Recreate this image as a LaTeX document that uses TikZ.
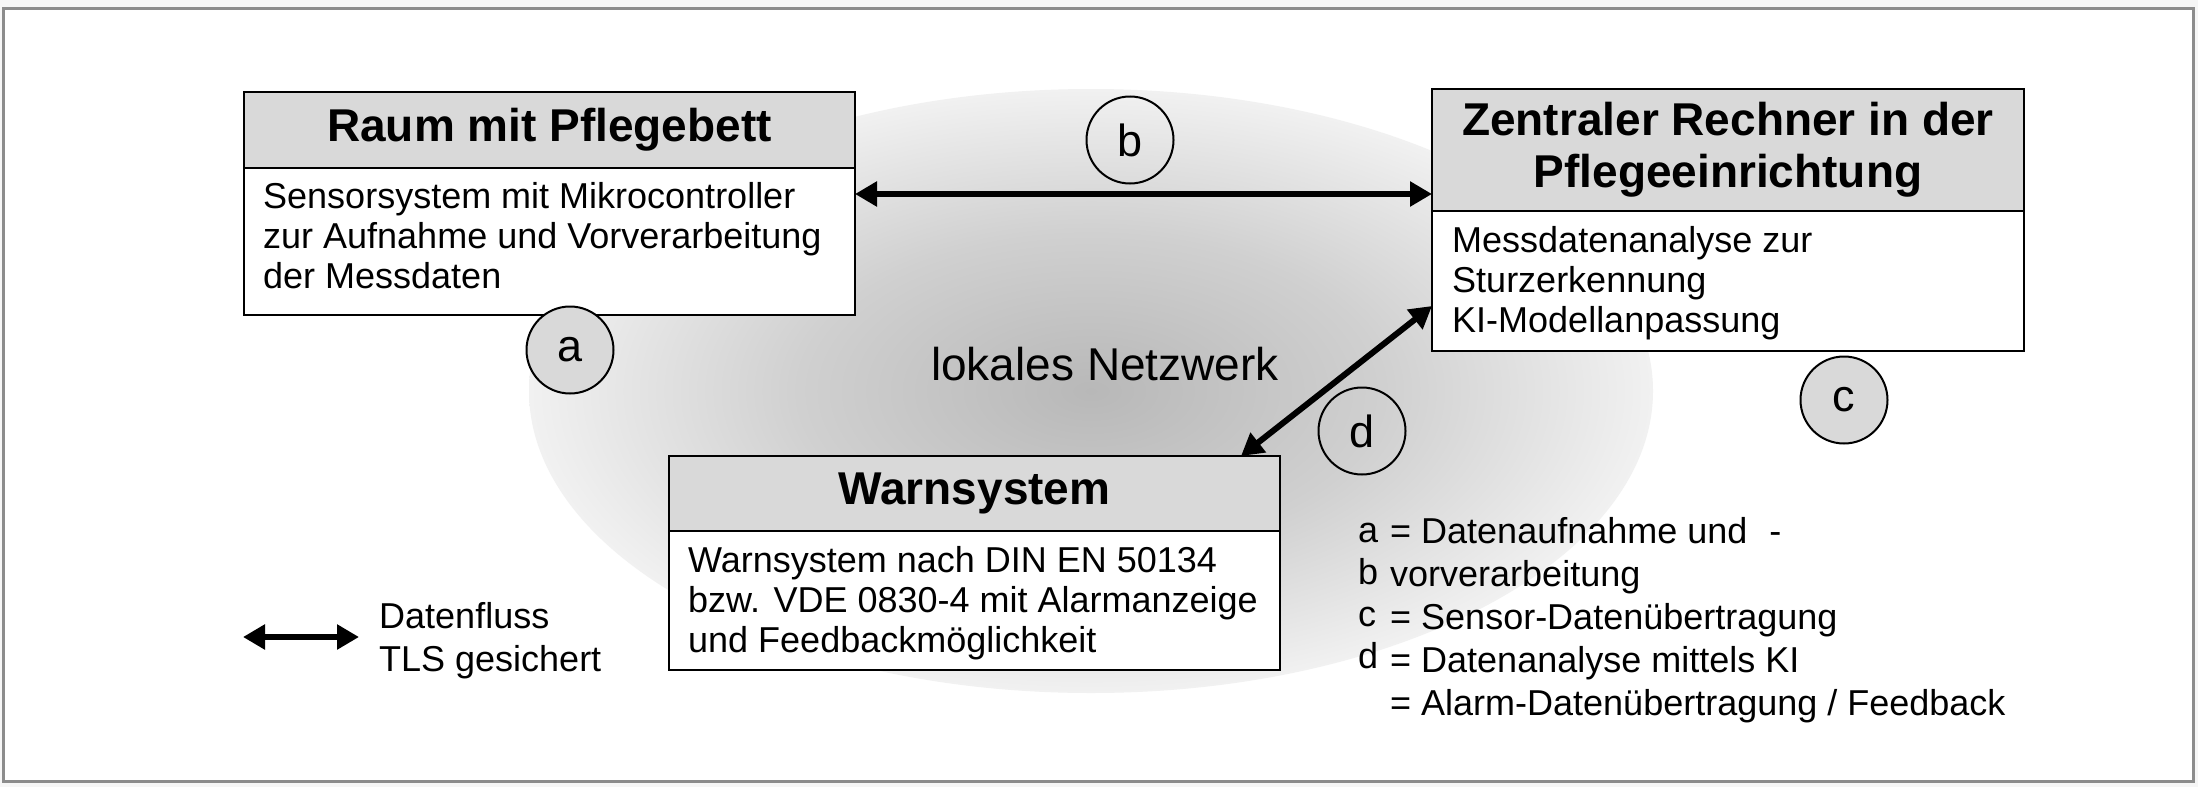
\documentclass[tikz,border=0pt]{standalone}
\usepackage{fontspec}
\setmainfont{Liberation Sans}
\usetikzlibrary{arrows.meta}
\definecolor{hdrgray}{RGB}{217,217,217}
\definecolor{framegray}{RGB}{140,140,140}
\definecolor{bggray}{RGB}{246,246,246}
\definecolor{netin}{RGB}{184,184,184}
\definecolor{netmid}{RGB}{208,208,208}
\definecolor{netout}{RGB}{241,241,241}
\pgfdeclareradialshading{netshade}{\pgfpoint{0bp}{0bp}}{color(0bp)=(netin); color(13bp)=(netmid); color(25bp)=(netout); color(50bp)=(netout)}
\begin{document}
\begin{tikzpicture}[x=1pt,y=-1pt,
  hdr/.style={draw=black, line width=2.5pt, fill=hdrgray, anchor=north west, inner sep=0pt, outer sep=0pt,
    font=\fontsize{46}{52}\selectfont\bfseries, align=center},
  bodybox/.style={draw=black, line width=2.5pt, fill=white, anchor=north west, inner sep=0pt, outer sep=0pt},
  bodytext/.style={anchor=north west, inner sep=0pt, font=\fontsize{36}{40}\selectfont, align=left},
  lettercirc/.style={circle, draw=black, line width=2pt, minimum size=87pt, inner sep=0pt,
    font=\fontsize{45}{50}\selectfont},
  flow/.style={line width=6pt, {Triangle[length=22pt,width=24pt]}-{Triangle[length=22pt,width=24pt]}},
]
\useasboundingbox (0,0) rectangle (2198,787);
\fill[bggray] (0,0) rectangle (2198,787);
\draw[framegray, line width=3pt, fill=white] (3.5,8.5) rectangle (2193.5,781.5);

% network ellipse
\shade[shading=netshade] (1091,391) ellipse [x radius=562pt, y radius=302pt];

% box 1
\node[hdr, minimum width=611pt, minimum height=76pt] (h1) at (244,92) {Raum mit Pflegebett};
\node[bodybox, minimum width=611pt, minimum height=147pt] (b1) at (h1.south west) {};
\node[bodytext] (t1) at (263,180) {\strut Sensorsystem mit Mikrocontroller\\zur Aufnahme und Vorverarbeitung\\der Messdaten};

% box 2
\node[hdr, minimum width=592pt, minimum height=122pt] (h2) at (1432,89) {Zentraler Rechner in der\\Pflegeeinrichtung};
\node[bodybox, minimum width=592pt, minimum height=140pt] (b2) at (h2.south west) {};
\node[bodytext] (t2) at (1452,224) {\strut Messdatenanalyse zur\\Sturzerkennung\\KI-Modellanpassung};

% box 3
\node[hdr, minimum width=611pt, minimum height=75pt] (h3) at (669,456) {Warnsystem};
\node[bodybox, minimum width=611pt, minimum height=139pt] (b3) at (h3.south west) {};
\node[bodytext] (t3) at (688,544) {\strut Warnsystem nach DIN EN 50134\\bzw. VDE 0830-4 mit Alarmanzeige\\und Feedbackmöglichkeit};

% label
\node[font=\fontsize{46}{50}\selectfont, anchor=base, inner sep=0pt] (net) at (1105,380) {lokales Netzwerk};

% connectors
\coordinate (yb) at (0,194);
\coordinate (xd) at (1241,0);
\coordinate (yd) at (0,306);
\draw[flow] (b1.east |- yb) -- (h2.west |- yb);
\draw[flow] (h3.north -| xd) -- (b2.west |- yd);

% circles
\node[lettercirc, fill=hdrgray] (ca) at (570,350) {a};
\node[lettercirc] (cb) at (1130,140) {b};
\node[lettercirc, fill=hdrgray] (cc) at (1844,400) {c};
\node[lettercirc] (cd) at (1362,431) {d};

% legend left
\coordinate (la) at (243,637);
\coordinate (lb) at (359,637);
\draw[flow] (la) -- (lb);
\node[anchor=north west, inner sep=0pt, font=\fontsize{36}{43}\selectfont, align=left] (leg) at (379,598) {\strut Datenfluss\\TLS gesichert};

% legend right
\node[anchor=north west, inner sep=0pt, font=\fontsize{36}{42}\selectfont, align=left] (legl) at (1358,512.6) {\strut a\\b\\c\\d};
\node[anchor=north west, inner sep=0pt, font=\fontsize{36}{43}\selectfont, align=left] (legt) at (1390,512.9) {\strut = Datenaufnahme und\hspace{22pt}-\\vorverarbeitung\\= Sensor-Datenübertragung\\= Datenanalyse mittels KI\\= Alarm-Datenübertragung / Feedback};
\end{tikzpicture}
\end{document}
